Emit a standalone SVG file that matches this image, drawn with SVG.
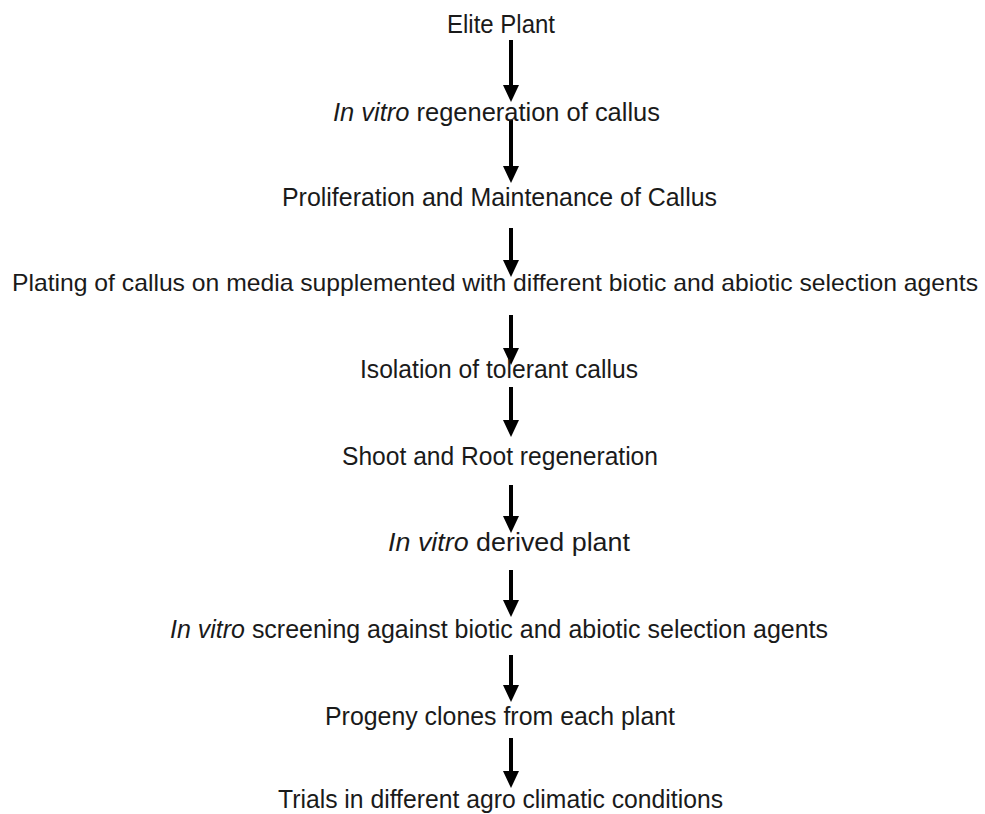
<svg xmlns="http://www.w3.org/2000/svg" width="985" height="814" viewBox="0 0 985 814">
<defs>
<style>
.t{font-family:"Liberation Sans",Arial,sans-serif;font-size:26px;fill:#1a1a1a;text-anchor:start}
.w{font-size:24px}
.i{font-style:italic}
.c{stroke:#000;stroke-width:4;fill:none}
</style>
<marker id="ah" markerUnits="userSpaceOnUse" markerWidth="18" markerHeight="18" refX="0" refY="8" orient="auto" overflow="visible">
<path d="M0,0 L17,8 L0,16 z" fill="#000"/>
</marker>
</defs>
<rect width="985" height="814" fill="#fff"/>
<g id="connectors">
<line class="c" x1="511" y1="40" x2="511" y2="85" marker-end="url(#ah)"/>
<line class="c" x1="511" y1="120" x2="511" y2="166" marker-end="url(#ah)"/>
<line class="c" x1="511" y1="228" x2="511" y2="260" marker-end="url(#ah)"/>
<line class="c" x1="511" y1="315" x2="511" y2="348" marker-end="url(#ah)"/>
<line class="c" x1="511" y1="387" x2="511" y2="420" marker-end="url(#ah)"/>
<line class="c" x1="511" y1="485" x2="511" y2="516" marker-end="url(#ah)"/>
<line class="c" x1="511" y1="570" x2="511" y2="600" marker-end="url(#ah)"/>
<line class="c" x1="511" y1="655" x2="511" y2="685" marker-end="url(#ah)"/>
<line class="c" x1="511" y1="738" x2="511" y2="771" marker-end="url(#ah)"/>
</g>
<g id="n1"><text class="t" x="447" y="33" textLength="108" lengthAdjust="spacingAndGlyphs">Elite Plant</text></g>
<g id="n2"><text class="t" x="333" y="121" textLength="327" lengthAdjust="spacingAndGlyphs"><tspan class="i">In vitro</tspan> regeneration of callus</text></g>
<g id="n3"><text class="t" x="282" y="206" textLength="435" lengthAdjust="spacingAndGlyphs">Proliferation and Maintenance of Callus</text></g>
<g id="n4"><text class="t w" x="12" y="291" textLength="966" lengthAdjust="spacingAndGlyphs">Plating of callus on media supplemented with different biotic and abiotic selection agents</text></g>
<g id="n5"><text class="t" x="360" y="378" textLength="278" lengthAdjust="spacingAndGlyphs">Isolation of tolerant callus</text></g>
<g id="n6"><text class="t" x="342" y="465" textLength="316" lengthAdjust="spacingAndGlyphs">Shoot and Root regeneration</text></g>
<g id="n7"><text class="t" x="388" y="551" textLength="242" lengthAdjust="spacingAndGlyphs"><tspan class="i">In vitro</tspan> derived plant</text></g>
<g id="n8"><text class="t" x="170" y="638" textLength="658" lengthAdjust="spacingAndGlyphs"><tspan class="i">In vitro</tspan> screening against biotic and abiotic selection agents</text></g>
<g id="n9"><text class="t" x="325" y="725" textLength="350" lengthAdjust="spacingAndGlyphs">Progeny clones from each plant</text></g>
<g id="n10"><text class="t" x="278" y="808" textLength="445" lengthAdjust="spacingAndGlyphs">Trials in different agro climatic conditions</text></g>
</svg>
